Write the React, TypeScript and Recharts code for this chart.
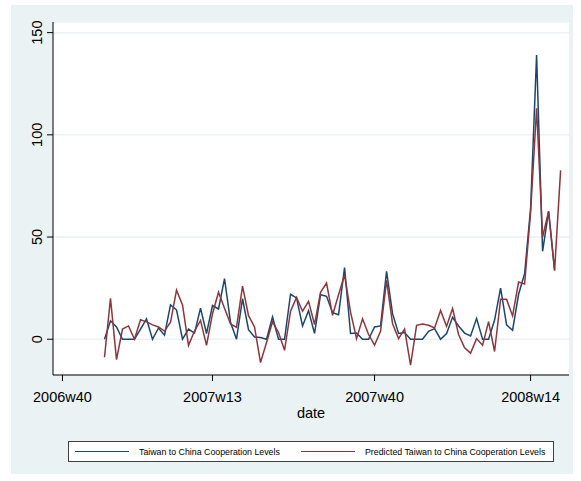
import { LineChart, Line, XAxis, YAxis, CartesianGrid, Label } from "recharts";

// weeks are counted from 2006w40 (= 0); both series start at 2006w47
const firstWeek = 7;
const weekTicks = [0, 25, 52, 78];
const weekTickLabels = ["2006w40", "2007w13", "2007w40", "2008w14"];
const levelTicks = [0, 50, 100, 150];

const actualLevels = [
  0, 9, 6, 0, 0, 0, 5, 10, 0, 5.5,
  2, 16.8, 14.4, 0, 5, 3, 15.2, 2.8, 16.5, 14.8,
  29.7, 8.3, 0, 19.8, 4.7, 1.1, 0.8, 0, 10.9, 0,
  0, 22, 20.2, 6.5, 14, 2.8, 21.8, 21, 13, 12,
  35, 2.8, 3, 0, 0, 6, 6.5, 33.2, 12.5, 2.8,
  3.3, 0, 0, 0, 3.9, 5.2, 0, 2.8, 10.7, 6.5,
  3, 1.6, 10.2, 0, 0, 9.4, 25, 7, 4.4, 22,
  32, 64, 139, 43, 62.6, 33.7,
];

const predictedLevels = [
  -8.8, 20, -10, 5, 6.5, 0, 9.5, 8.5, 7, 6,
  4, 8.3, 24, 16.8, -3, 4, 9.2, -3, 12.5, 23,
  15.2, 7.5, 5.8, 26, 11.5, 6, -11.4, -1.6, 8.5, 3.3,
  -5.4, 13.7, 20.5, 13.7, 18.5, 7.2, 23, 27.5, 11.7, 21.8,
  31.5, 13.3, 0.3, 10, 2.3, -2.9, 3.9, 28.8, 7.6, 0.3,
  5, -12.7, 6.8, 7.5, 6.8, 5.5, 14.1, 6.3, 15, 2.3,
  -4.2, -6.8, 0.3, -2.9, 8.6, -6, 19.5, 19.5, 11.4, 28,
  27, 62, 113, 50, 62.6, 33.7, 82.6,
];

const data = predictedLevels.map((p, k) => ({
  week: firstWeek + k,
  actual: k < actualLevels.length ? actualLevels[k] : null,
  predicted: p,
}));

const FONT = '"Liberation Sans", Arial, sans-serif';
const BLUE = "#1a476f";
const RED = "#90353b";
const BG = "#eaf2f3";

const LevelTick = ({ x, y, payload }: any) => (
  <text
    x={x - 3}
    y={y}
    transform={`rotate(-90 ${x - 3} ${y})`}
    textAnchor="middle"
    fontSize={14.5}
    fontFamily={FONT}
    fill="#000"
  >
    {payload.value}
  </text>
);

const WeekTick = ({ x, y, payload }: any) => (
  <text
    x={x}
    y={y + 18.5}
    textAnchor="middle"
    fontSize={14.5}
    fontFamily={FONT}
    fill="#000"
  >
    {weekTickLabels[weekTicks.indexOf(payload.value)]}
  </text>
);

function LegendItem({ color, text, left }: { color: string; text: string; left: number }) {
  return (
    <div
      style={{
        position: "absolute",
        left,
        top: 0,
        height: "100%",
        display: "flex",
        alignItems: "center",
        whiteSpace: "nowrap",
      }}
    >
      <span style={{ width: 54, height: 1.5, background: color, marginRight: 10 }} />
      <span style={{ fontSize: 8.8, color: "#000" }}>{text}</span>
    </div>
  );
}

export default function App() {
  return (
    <div
      style={{
        position: "absolute",
        left: 0,
        top: 0,
        width: 581,
        height: 481,
        background: "#fff",
        fontFamily: FONT,
      }}
    >
      <div style={{ position: "absolute", left: 11, top: 5, width: 562, height: 469, background: BG }} />
      <div style={{ position: "absolute", left: 0, top: 0 }}>
        <LineChart
          width={581}
          height={481}
          data={data}
          margin={{ top: 22, right: 12, bottom: 76, left: 0 }}
        >
          <CartesianGrid vertical={false} stroke={BG} strokeWidth={1.5} fill="#fff" fillOpacity={1} />
          <XAxis
            type="number"
            dataKey="week"
            domain={[-1.58, 84.4]}
            ticks={weekTicks}
            allowDataOverflow
            height={30}
            tickSize={6}
            stroke="#000"
            tick={<WeekTick />}
          >
            <Label
              content={({ viewBox }: any) => (
                <text
                  x={viewBox.x + viewBox.width / 2}
                  y={viewBox.y + 43}
                  textAnchor="middle"
                  fontSize={14.5}
                  fontFamily={FONT}
                  fill="#000"
                >
                  date
                </text>
              )}
            />
          </XAxis>
          <YAxis
            type="number"
            domain={[-17.5, 155.2]}
            ticks={levelTicks}
            allowDataOverflow
            width={53}
            tickSize={6}
            stroke="#000"
            tick={<LevelTick />}
          />
          <Line
            type="linear"
            dataKey="actual"
            stroke={BLUE}
            strokeWidth={1.5}
            dot={false}
            isAnimationActive={false}
            name="Taiwan to China Cooperation Levels"
          />
          <Line
            type="linear"
            dataKey="predicted"
            stroke={RED}
            strokeWidth={1.5}
            dot={false}
            isAnimationActive={false}
            name="Predicted Taiwan to China Cooperation Levels"
          />
        </LineChart>
      </div>
      <div
        style={{
          position: "absolute",
          left: 68,
          top: 441,
          width: 484,
          height: 19,
          border: "1px solid #404040",
          background: "#fff",
        }}
      >
        <LegendItem color={BLUE} text="Taiwan to China Cooperation Levels" left={6} />
        <LegendItem color={RED} text="Predicted Taiwan to China Cooperation Levels" left={232} />
      </div>
    </div>
  );
}
